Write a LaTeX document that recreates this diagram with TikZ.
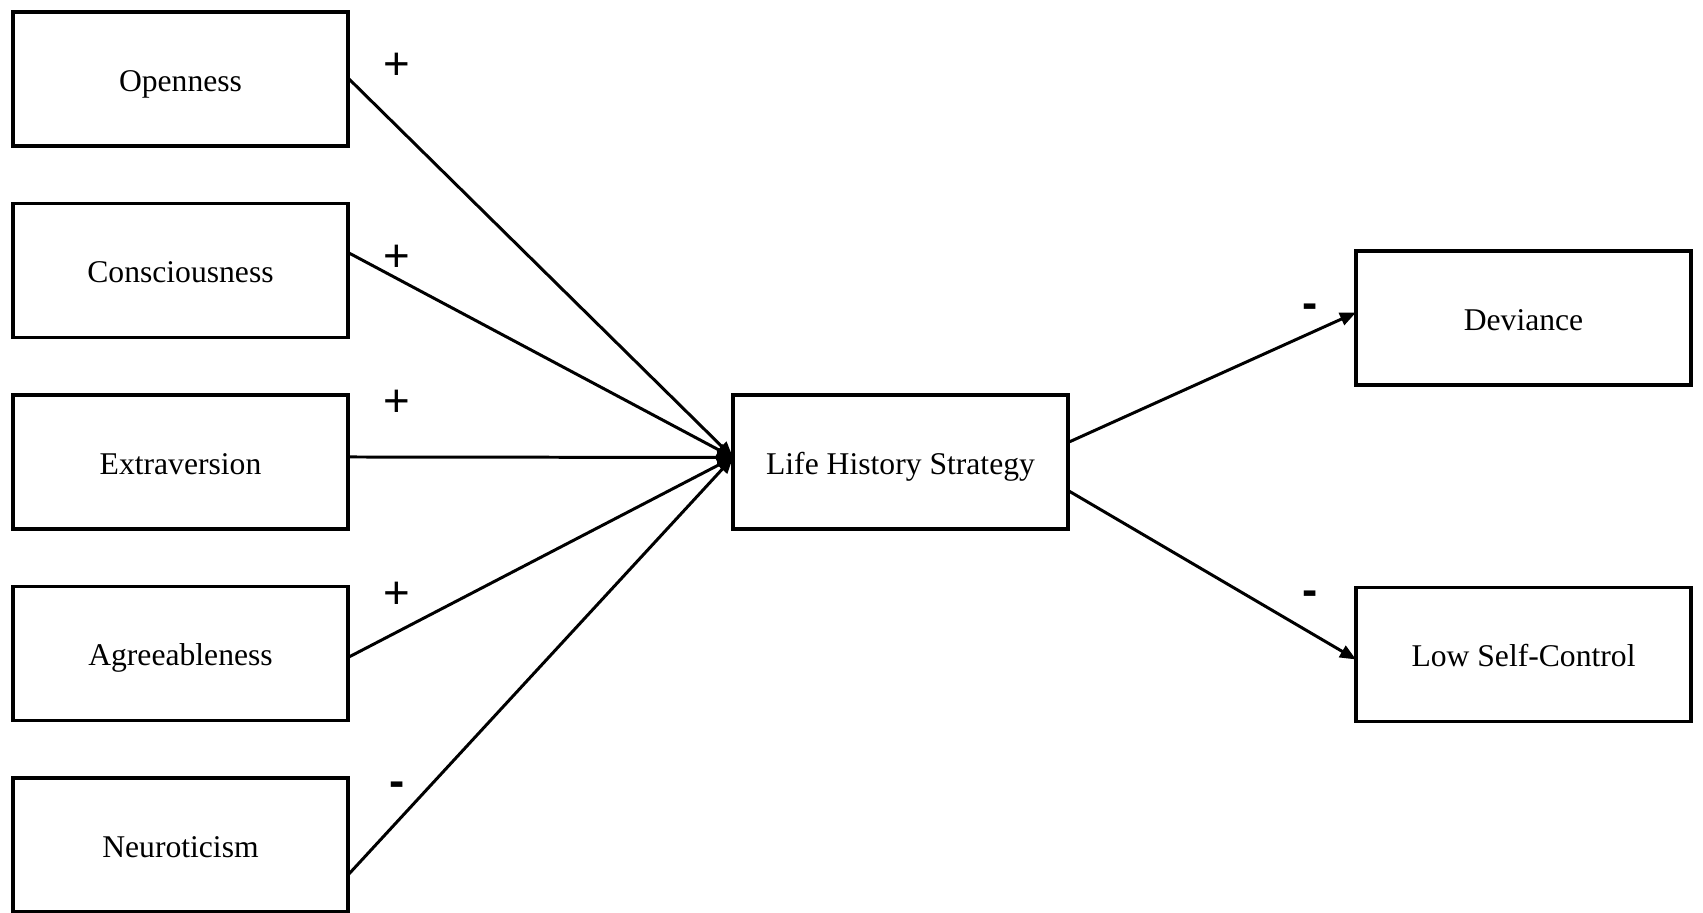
\documentclass[tikz,border=0pt]{standalone}
\usepackage{fontspec}
\setmainfont{Liberation Serif}
\newfontfamily\signfont{Liberation Sans}
\usepackage{tikz}
\usetikzlibrary{arrows.meta,calc,positioning}
\newdimen\hdim
\newdimen\wdim
\newdimen\odim
\hdim=1.34cm
\wdim=3.35cm
\odim=.575cm
\tikzstyle{element}=[
  draw=black,
  font={\fontsize{9}{11}\selectfont},
  inner sep=0pt,
  minimum height=\hdim,
  minimum width=\wdim,
  outer sep=0pt,
  rectangle,
  text centered,
  text height=7pt,
  text depth=0pt,
  line width=1.1pt,
]
\tikzstyle{arrow}=[
  color=black,
  draw=black,
  line width=.85pt,
]
\tikzstyle{sign}=[
  font={\signfont\fontsize{13}{13}\selectfont},
  inner sep=0pt,
]
\tikzset{
  node distance=\odim,
  >={Triangle[length=.16cm,width=.13cm]},
}
\begin{document}
\begin{tikzpicture}
      \useasboundingbox (0,0) rectangle (17.03,9.13);
      \node (open) [element] at (1.805,8.34) {Openness};
      \node (consc) [element, below=of open] {Consciousness};
      \node (extra) [element, below=of consc] {Extraversion};
      \node (agree) [element, below=of extra] {Agreeableness};
      \node (neuro) [element, below=of agree] {Neuroticism};
      \node (lhs) [element, right=3.85cm of extra] {Life History Strategy};
      \node (dev) [element, right=2.88cm of lhs, yshift=1.44cm] {Deviance};
      \node (lsc) [element, right=2.88cm of lhs, yshift=-1.925cm] {Low Self-Control};
      \node (s1) [sign] at (3.97,8.47) {+};
      \node (s2) [sign] at (3.97,6.55) {+};
      \node (s3) [sign] at (3.97,5.10) {+};
      \node (s4) [sign] at (3.97,3.18) {+};
      \node (s5) [sign] at (3.97,1.235) {\bfseries -};
      \node (s6) [sign] at (13.10,6.02) {\bfseries -};
      \node (s7) [sign] at (13.10,3.145) {\bfseries -};
      \draw [->, arrow] ([yshift=.01cm]open.east) -- ([yshift=.045cm]lhs.west);
      \draw [->, arrow] ([yshift=.18cm]consc.east) -- ([yshift=.045cm]lhs.west);
      \draw [->, arrow] ([yshift=.05cm]extra.east) -- ([yshift=.045cm]lhs.west);
      \draw [->, arrow] ([yshift=-.04cm]agree.east) -- ([yshift=.045cm]lhs.west);
      \draw [->, arrow] ([yshift=-.30cm]neuro.east) -- ([yshift=.045cm]lhs.west);
      \draw [->, arrow] ([yshift=.195cm]lhs.east) -- ([yshift=.055cm]dev.west);
      \draw [->, arrow] ([yshift=-.285cm]lhs.east) -- ([yshift=-.05cm]lsc.west);
    \end{tikzpicture}
\end{document}
